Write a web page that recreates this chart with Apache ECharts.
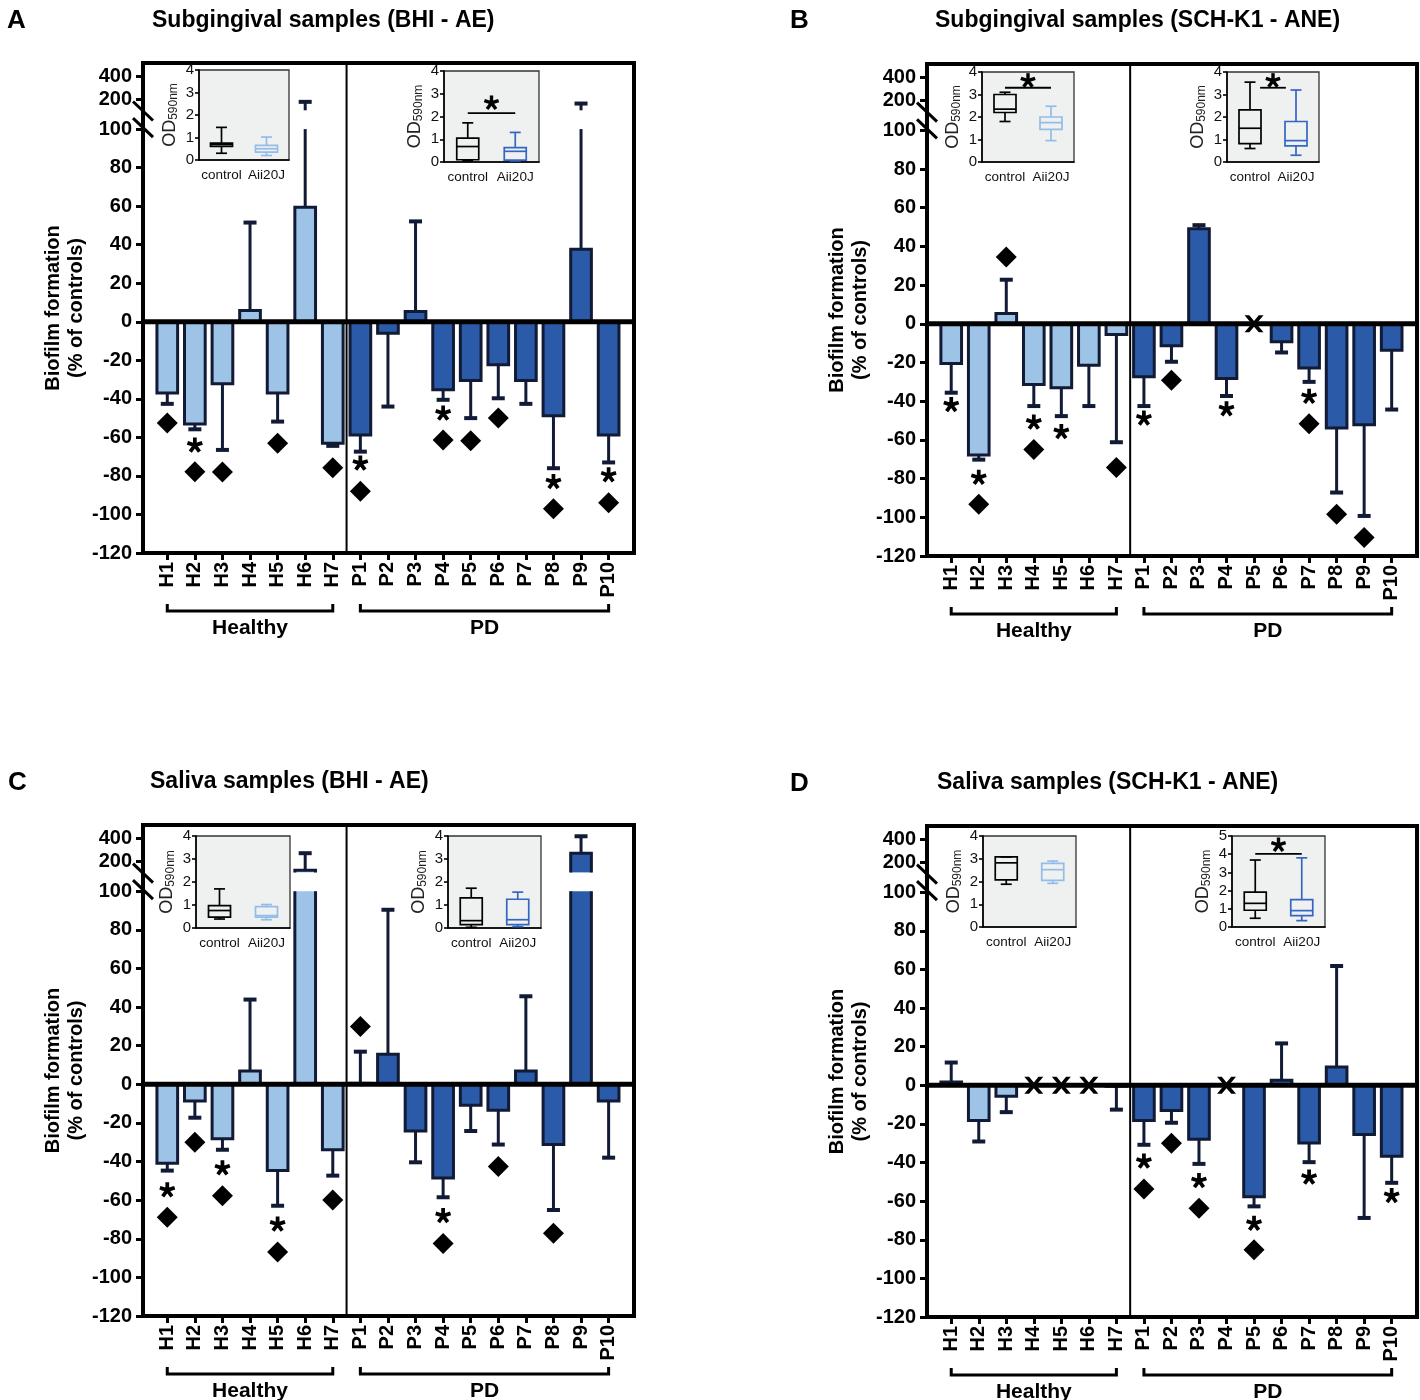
<!DOCTYPE html>
<html><head><meta charset="utf-8">
<script src="https://cdn.jsdelivr.net/npm/echarts@6/dist/echarts.min.js"></script>
<style>html,body{margin:0;padding:0;background:#fff}#c{width:1420px;height:1400px}</style>
</head><body><div id="c"></div>
<script>
// ---------------- DATA ----------------
const categories = ['H1','H2','H3','H4','H5','H6','H7','P1','P2','P3','P4','P5','P6','P7','P8','P9','P10'];
const nHealthy = 7;
const groupLabels = ['Healthy', 'PD'];
const yTickValues = [-120,-100,-80,-60,-40,-20,0,20,40,60,80,100,200,400];
const insetCats = ['control', 'Aii20J'];

const A_mean    = [-37, -53, -32.2, 5.9, -37, 59.4, -63, -58.7, -5.9, 5.3, -35.3, -30.5, -22.3, -30.5, -48.8, 37.6, -58.7];
const A_errEnd  = [-42.6, -55.8, -66.5, 51.5, -51.8, 175, -64.4, -67.4, -44, 52.1, -40.5, -50, -39.7, -42.6, -76, 160, -73];
const A_star    = [null, -64, null, null, null, null, null, -73.4, null, null, -47.4, null, null, null, -83, null, -79.5];
const A_diamond = [-52.5, -77.8, -78, null, -63, null, -75.7, -88, null, null, -61.3, -61.8, -50, null, -97, null, -93.9];
const A_missing = [];

const B_mean    = [-20.5, -67.8, 5.3, -31.4, -33.1, -21.4, -5.5, -27.4, -11.3, 49.2, -28.3, null, -9.2, -22.8, -53.9, -52.2, -13.6];
const B_errEnd  = [-35.6, -70.2, 22.8, -42.5, -47.7, -42.5, -61.2, -42.5, -19.6, 51, -37.3, null, -14.8, -30, -87.2, -99.3, -44.3];
const B_star    = [-41.8, -79.4, null, -50.8, -55.7, null, null, -48.7, null, null, -43.9, null, null, -37.5, null, null, null];
const B_diamond = [null, -93.2, 34.5, -65, null, null, -74.2, null, -29.2, null, null, null, null, -51.7, -98.4, -110.5, null];
const B_missing = [11];

const C_mean    = [-40.9, -8.7, -28.2, 6.9, -44.7, 120, -33.9, 0.5, 15.6, -24.2, -48.5, -10.9, -13.5, 6.9, -31.2, 270, -8.7];
const C_errEnd  = [-44.7, -17.3, -33.9, 43.9, -62.9, 270, -47.3, 16.9, 90.4, -40.4, -58.5, -24.2, -31.2, 45.6, -65.1, 420, -38];
const C_star    = [-54.7, null, -43.3, null, -72.4, null, null, null, null, null, -68, null, null, null, null, null, null];
const C_diamond = [-68.9, -30, -57.7, null, -86.8, null, -59.9, 29.9, null, null, -82.4, null, -42.6, null, -77.2, null, null];
const C_missing = [];

const D_mean    = [1.7, -18.2, -5.7, null, null, null, -0.5, -18.2, -13, -28, null, -57.7, 2.6, -29.9, 9.5, -25.5, -36.7];
const D_errEnd  = [11.8, -29.1, -13.9, null, null, null, -12.6, -30.8, -19.4, -40.7, null, -62.7, 21.7, -39.8, 61.8, -68.7, -50.5];
const D_star    = [null, null, null, null, null, null, null, -39.3, null, -49.4, null, -71.5, null, -47.6, null, null, -57.1];
const D_diamond = [null, null, null, null, null, null, null, -53.7, -30, -63.7, null, -85.2, null, null, null, null, null];
const D_missing = [3, 4, 5, 10];

// inset boxplots: [min, Q1, median, Q3, max]
const A_boxH_control = [0.3, 0.6, 0.68, 0.75, 1.45];
const A_boxH_aii     = [0.2, 0.35, 0.5, 0.65, 1.02];
const A_boxP_control = [0.05, 0.1, 0.68, 1.05, 1.72];
const A_boxP_aii     = [0.05, 0.08, 0.47, 0.63, 1.3];
const B_boxH_control = [1.8, 2.2, 2.35, 3.0, 3.1];
const B_boxH_aii     = [0.95, 1.45, 1.75, 2.0, 2.48];
const B_boxP_control = [0.6, 0.82, 1.5, 2.32, 3.55];
const B_boxP_aii     = [0.3, 0.72, 0.95, 1.8, 3.2];
const C_boxH_control = [0.39, 0.47, 0.76, 0.97, 1.7];
const C_boxH_aii     = [0.36, 0.47, 0.54, 0.93, 1.02];
const C_boxP_control = [0.03, 0.15, 0.32, 1.31, 1.73];
const C_boxP_aii     = [0.06, 0.15, 0.36, 1.25, 1.56];
const D_boxH_control = [1.88, 2.07, 2.82, 3.08, 3.08];
const D_boxH_aii     = [1.92, 2.05, 2.52, 2.8, 2.9];
const D_boxP_control = [0.48, 0.92, 1.3, 1.92, 3.68];
const D_boxP_aii     = [0.35, 0.62, 0.9, 1.5, 3.8];
// significance: [bar level, star level]
const A_sigP = [2.15, 2.63];
const B_sigH = [3.3, 3.65];
const B_sigP = [3.3, 3.65];
const D_sigP = [4.02, 4.55];

// ---------------- STYLE / LAYOUT ----------------
const FONT = '"Liberation Sans", Arial, Helvetica, sans-serif';
const LIGHT = '#9dc3e6', DARK = '#2b5ba8', EDGE = '#111b36';
const INSET_H = '#93bde8', INSET_P = '#3466c2';
const BRK_GAP = 9.75, BRK_K = 0.0585;
const T = v => v <= 100 ? v : 100 + BRK_GAP + (v - 100) * BRK_K;
const Y_MIN = -120, Y_MAX = 134.3, X_MIN = -0.88, X_MAX = 16.92;
const breakMarks = [109.4, 100.8];
const catIdx = categories.map((c, i) => i);

const panels = [
  {letter:'A', title:'Subgingival samples (BHI - AE)', mean:A_mean, err:A_errEnd, star:A_star, diamond:A_diamond, missing:A_missing,
   insets:[{boxes:[A_boxH_control, A_boxH_aii], color:INSET_H, max:4, sig:null},
           {boxes:[A_boxP_control, A_boxP_aii], color:INSET_P, max:4, sig:A_sigP, span:[0,1]}]},
  {letter:'B', title:'Subgingival samples (SCH-K1 - ANE)', mean:B_mean, err:B_errEnd, star:B_star, diamond:B_diamond, missing:B_missing,
   insets:[{boxes:[B_boxH_control, B_boxH_aii], color:INSET_H, max:4, sig:B_sigH, span:[0,1]},
           {boxes:[B_boxP_control, B_boxP_aii], color:INSET_P, max:4, sig:B_sigP, span:[0.22,0.78]}]},
  {letter:'C', title:'Saliva samples (BHI - AE)', mean:C_mean, err:C_errEnd, star:C_star, diamond:C_diamond, missing:C_missing,
   insets:[{boxes:[C_boxH_control, C_boxH_aii], color:INSET_H, max:4, sig:null},
           {boxes:[C_boxP_control, C_boxP_aii], color:INSET_P, max:4, sig:null}]},
  {letter:'D', title:'Saliva samples (SCH-K1 - ANE)', mean:D_mean, err:D_errEnd, star:D_star, diamond:D_diamond, missing:D_missing,
   insets:[{boxes:[D_boxH_control, D_boxH_aii], color:INSET_H, max:4, sig:null},
           {boxes:[D_boxP_control, D_boxP_aii], color:INSET_P, max:5, sig:D_sigP, span:[0,1]}]}
];

const layouts = [
  {grid:{left:143, top:63, width:491, height:490}, letter:{left:2, top:3}, title:{left:147, top:4},
   insets:[{left:199, top:70, width:90, height:90}, {left:444, top:71, width:95, height:91}]},
  {grid:{left:927, top:64, width:490, height:492}, letter:{left:785, top:3}, title:{left:930, top:4},
   insets:[{left:982, top:72, width:92, height:90}, {left:1227, top:72, width:92, height:90}]},
  {grid:{left:143, top:825, width:491, height:491}, letter:{left:3, top:765}, title:{left:145, top:765},
   insets:[{left:196, top:836, width:94, height:92}, {left:448, top:836, width:93, height:92}]},
  {grid:{left:927, top:826, width:490, height:491}, letter:{left:785, top:766}, title:{left:932, top:766},
   insets:[{left:983, top:836, width:93, height:91}, {left:1232, top:836, width:93, height:91}]}
];

// ---------------- HELPERS ----------------
function starPoints(cx, cy, r, hw) {
  const polys = [];
  for (let a = 0; a < 5; a++) {
    const ang = a * 2 * Math.PI / 5;
    const ux = Math.sin(ang), uy = -Math.cos(ang);
    const px = -uy * hw, py = ux * hw;
    polys.push([[cx + px, cy + py], [cx + px + ux * r, cy + py + uy * r], [cx - px + ux * r, cy - py + uy * r], [cx - px, cy - py]]);
  }
  return polys;
}
const ASTERISK = 'path://' + starPoints(1.1, 1.1, 1, 0.24).map(p =>
  'M' + p.map(q => q[0].toFixed(3) + ' ' + q[1].toFixed(3)).join(' L') + ' Z').join(' ');
const XMARK = 'path://M0 0 L5 0 L10 6 L15 0 L20 0 L12.5 9 L20 18 L15 18 L10 12 L5 18 L0 18 L7.5 9 Z';

function renderBar(params, api) {
  const i = api.value(0), v = api.value(1);
  const fill = i < nHealthy ? LIGHT : DARK;
  const w = api.size([1, 0])[0] * 0.75;
  const base = api.coord([i, 0]);
  const x0 = base[0] - w / 2, y0 = base[1];
  if (v <= 100) {
    const y1 = api.coord([i, v])[1];
    return {type:'rect', shape:{x:x0, y:Math.min(y0, y1), width:w, height:Math.abs(y1 - y0)},
            style:{fill:fill, stroke:EDGE, lineWidth:3}};
  }
  const yb = api.coord([i, 100])[1];
  const yu0 = api.coord([i, 100 + BRK_GAP])[1];
  const yu1 = api.coord([i, T(v)])[1];
  const st = {stroke:EDGE, lineWidth:3, fill:'none'};
  return {type:'group', children:[
    {type:'rect', shape:{x:x0, y:yb, width:w, height:y0 - yb}, style:{fill:fill}},
    {type:'line', shape:{x1:x0, y1:y0, x2:x0, y2:yb}, style:st},
    {type:'line', shape:{x1:x0 + w, y1:y0, x2:x0 + w, y2:yb}, style:st},
    {type:'rect', shape:{x:x0, y:yu1, width:w, height:yu0 - yu1}, style:{fill:fill}},
    {type:'polyline', shape:{points:[[x0, yu0], [x0, yu1], [x0 + w, yu1], [x0 + w, yu0]]}, style:st}
  ]};
}

function renderErr(params, api) {
  const i = api.value(0), m = api.value(1), e = api.value(2);
  const x = api.coord([i, 0])[0];
  const ch = [];
  const st = {stroke:EDGE, lineWidth:3};
  const seg = (a, b) => {
    const ya = api.coord([i, a])[1], yb = api.coord([i, b])[1];
    ch.push({type:'line', shape:{x1:x, y1:ya, x2:x, y2:yb}, style:st});
  };
  if (m <= 100 && e > 100) { seg(m, 100); seg(100 + BRK_GAP, T(e)); }
  else seg(T(m), T(e));
  const ye = api.coord([i, T(e)])[1];
  ch.push({type:'line', shape:{x1:x - 6.5, y1:ye, x2:x + 6.5, y2:ye}, style:{stroke:EDGE, lineWidth:4}});
  return {type:'group', children:ch};
}

function renderDeco(params, api) {
  const ch = [];
  const c0 = api.coord([X_MIN, 0]), c1 = api.coord([X_MAX, 0]);
  ch.push({type:'line', shape:{x1:c0[0], y1:c0[1], x2:c1[0], y2:c1[1]}, style:{stroke:'#000', lineWidth:5}});
  const d0 = api.coord([nHealthy - 0.5, Y_MIN]), d1 = api.coord([nHealthy - 0.5, Y_MAX]);
  ch.push({type:'line', shape:{x1:d0[0], y1:d0[1], x2:d1[0], y2:d1[1]}, style:{stroke:'#000', lineWidth:2}});
  breakMarks.forEach(t => {
    const p = api.coord([X_MIN, t]);
    ch.push({type:'line', shape:{x1:p[0] - 10, y1:p[1] - 9.5, x2:p[0] + 10, y2:p[1] + 9.5}, style:{stroke:'#000', lineWidth:3}});
  });
  const ranges = [[0, nHealthy - 1], [nHealthy, categories.length - 1]];
  ranges.forEach((r, gi) => {
    const a = api.coord([r[0], Y_MIN]), b = api.coord([r[1], Y_MIN]);
    const yl = a[1] + 58;
    ch.push({type:'polyline', shape:{points:[[a[0], yl - 7], [a[0], yl], [b[0], yl], [b[0], yl - 7]]},
             style:{stroke:'#000', lineWidth:3, fill:'none'}});
    ch.push({type:'text', style:{text:groupLabels[gi], x:(a[0] + b[0]) / 2, y:yl + 17, align:'center', verticalAlign:'middle',
             textAlign:'center', textVerticalAlign:'middle', font:'bold 21px ' + FONT, fill:'#000'}});
  });
  return {type:'group', children:ch};
}

function makeBoxRender(color) {
  return function (params, api) {
    const i = api.value(0);
    const v = [1, 2, 3, 4, 5].map(k => api.value(k));
    const x = api.coord([i, 0])[0];
    const Y = val => api.coord([i, val])[1];
    const bw = 22, cw = 11;
    const col = i === 0 ? '#000' : color;
    const st = {stroke:col, lineWidth:1.7, fill:'none'};
    return {type:'group', children:[
      {type:'rect', shape:{x:x - bw / 2, y:Y(v[3]), width:bw, height:Y(v[1]) - Y(v[3])}, style:st},
      {type:'line', shape:{x1:x - bw / 2, y1:Y(v[2]), x2:x + bw / 2, y2:Y(v[2])}, style:st},
      {type:'line', shape:{x1:x, y1:Y(v[3]), x2:x, y2:Y(v[4])}, style:st},
      {type:'line', shape:{x1:x, y1:Y(v[1]), x2:x, y2:Y(v[0])}, style:st},
      {type:'line', shape:{x1:x - cw / 2, y1:Y(v[4]), x2:x + cw / 2, y2:Y(v[4])}, style:st},
      {type:'line', shape:{x1:x - cw / 2, y1:Y(v[0]), x2:x + cw / 2, y2:Y(v[0])}, style:st}
    ]};
  };
}

function makeSigRender(span) {
  return function (params, api) {
    const y = api.value(0), ys = api.value(1);
    const p0 = api.coord([0, y]), p1 = api.coord([1, y]);
    const xa = p0[0] + (p1[0] - p0[0]) * span[0], xb = p0[0] + (p1[0] - p0[0]) * span[1];
    const sy = api.coord([0, ys])[1];
    const ch = [{type:'line', shape:{x1:xa, y1:p0[1], x2:xb, y2:p0[1]}, style:{stroke:'#000', lineWidth:1.8}}];
    starPoints((xa + xb) / 2, sy + 0.8, 7.5, 1.7).forEach(pts => ch.push({type:'polygon', shape:{points:pts}, style:{fill:'#000'}}));
    return {type:'group', children:ch};
  };
}

// ---------------- BUILD OPTION ----------------
const grids = [], xAxes = [], yAxes = [], series = [], titles = [];
panels.forEach((p, pi) => {
  const L = layouts[pi];
  titles.push({text:p.letter, left:L.letter.left, top:L.letter.top, textStyle:{fontSize:26, fontWeight:'bold', color:'#000', fontFamily:FONT}});
  titles.push({text:p.title, left:L.title.left, top:L.title.top, textStyle:{fontSize:23, fontWeight:'bold', color:'#000', fontFamily:FONT}});

  const gi = grids.length;
  grids.push(Object.assign({show:true, borderColor:'#000', borderWidth:4, backgroundColor:'transparent'}, L.grid));
  xAxes.push({gridIndex:gi, type:'value', min:X_MIN, max:X_MAX,
    axisLine:{show:true, onZero:false, lineStyle:{color:'#000', width:4}},
    axisTick:{show:true, customValues:catIdx, length:7, lineStyle:{color:'#000', width:3}},
    axisLabel:{customValues:catIdx, formatter:v => categories[Math.round(v)] || '', rotate:90, fontSize:20, fontWeight:'bold',
               color:'#000', fontFamily:FONT, margin:9},
    splitLine:{show:false}});
  const yCustom = yTickValues.map(T);
  yAxes.push({gridIndex:gi, type:'value', min:Y_MIN, max:Y_MAX,
    axisLine:{show:true, onZero:false, lineStyle:{color:'#000', width:4}},
    axisTick:{show:true, customValues:yCustom, length:7, lineStyle:{color:'#000', width:3}},
    axisLabel:{customValues:yCustom, formatter:val => {
        const k = yCustom.findIndex(t => Math.abs(t - val) < 1e-6);
        return k >= 0 ? String(yTickValues[k]) : '';
      }, fontSize:20, fontWeight:'bold', color:'#000', fontFamily:FONT, margin:11},
    splitLine:{show:false},
    name:'Biofilm formation\n(% of controls)', nameLocation:'middle', nameGap:46,
    nameTextStyle:{fontSize:20, fontWeight:'bold', color:'#000', fontFamily:FONT, lineHeight:23}});

  const barData = p.mean.map((m, i) => m == null ? null : [i, m]).filter(Boolean);
  const errData = p.mean.map((m, i) => (m == null || p.err[i] == null) ? null : [i, m, p.err[i]]).filter(Boolean);
  series.push({type:'custom', name:p.letter + ' bars', xAxisIndex:gi, yAxisIndex:gi, clip:false, z:2,
    data:barData, renderItem:renderBar});
  series.push({type:'custom', name:p.letter + ' error', xAxisIndex:gi, yAxisIndex:gi, clip:false, z:3,
    data:errData, renderItem:renderErr});
  series.push({type:'custom', name:p.letter + ' deco', xAxisIndex:gi, yAxisIndex:gi, clip:false, z:4,
    data:[[0, 0]], renderItem:renderDeco});
  series.push({type:'scatter', name:p.letter + ' diamond', xAxisIndex:gi, yAxisIndex:gi, z:6, symbol:'diamond', symbolSize:21,
    itemStyle:{color:'#000', opacity:1}, data:p.diamond.map((v, i) => v == null ? null : [i, T(v)]).filter(Boolean)});
  series.push({type:'scatter', name:p.letter + ' star', xAxisIndex:gi, yAxisIndex:gi, z:6, symbol:ASTERISK, symbolSize:16,
    symbolKeepAspect:true, itemStyle:{color:'#000', opacity:1}, data:p.star.map((v, i) => v == null ? null : [i, T(v)]).filter(Boolean)});
  series.push({type:'scatter', name:p.letter + ' missing', xAxisIndex:gi, yAxisIndex:gi, z:7, symbol:XMARK, symbolSize:[19, 17],
    itemStyle:{color:'#000', opacity:1}, data:p.missing.map(i => [i, 0])});

  p.insets.forEach((ins, k) => {
    const ig = grids.length;
    grids.push(Object.assign({show:true, backgroundColor:'#eff0f0', borderColor:'#333', borderWidth:1.3, z:3}, L.insets[k]));
    xAxes.push({gridIndex:ig, type:'category', data:insetCats, boundaryGap:true, z:3,
      axisLine:{onZero:false, lineStyle:{color:'#000', width:1.6}},
      axisTick:{alignWithLabel:true, length:4, lineStyle:{color:'#000', width:1.6}},
      axisLabel:{fontSize:13.5, color:'#111', fontFamily:FONT, margin:8, interval:0}});
    yAxes.push({gridIndex:ig, type:'value', min:0, max:ins.max, interval:1, z:3,
      axisLine:{show:true, onZero:false, lineStyle:{color:'#000', width:1.6}},
      axisTick:{show:true, length:4, lineStyle:{color:'#000', width:1.6}},
      axisLabel:{fontSize:15, color:'#111', fontFamily:FONT, margin:5},
      splitLine:{show:false},
      name:'OD{s|590nm}', nameLocation:'middle', nameGap:19, nameRotate:90,
      nameTextStyle:{fontSize:18, color:'#222', fontFamily:FONT, rich:{s:{fontSize:12, color:'#222', fontFamily:FONT, padding:[8, 0, 0, 0]}}}});
    series.push({type:'custom', name:p.letter + ' inset ' + k, xAxisIndex:ig, yAxisIndex:ig, z:5, clip:false,
      data:ins.boxes.map((b, bi) => [bi].concat(b)), renderItem:makeBoxRender(ins.color)});
    if (ins.sig) {
      series.push({type:'custom', name:p.letter + ' sig ' + k, xAxisIndex:ig, yAxisIndex:ig, z:5, clip:false,
        data:[ins.sig], renderItem:makeSigRender(ins.span)});
    }
  });
});

const chart = echarts.init(document.getElementById('c'), null, {renderer:'canvas'});
chart.setOption({animation:false, backgroundColor:'#fff', textStyle:{fontFamily:FONT},
  title:titles, grid:grids, xAxis:xAxes, yAxis:yAxes, series:series});
</script>
</body></html>
